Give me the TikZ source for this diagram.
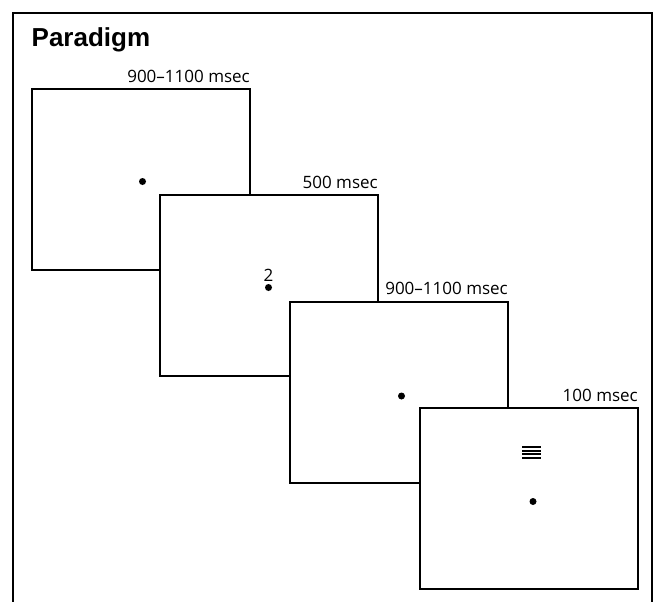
\documentclass[tikz,border=0pt]{standalone}
\usepackage{fontspec}
\setmainfont{Open Sans}
\newfontfamily\titlefont{Liberation Sans}
\begin{document}
\begin{tikzpicture}[x=1pt,y=-1pt,
  screen/.style={draw=black, line width=2pt, fill=white, minimum width=218pt,
    minimum height=181pt, anchor=north west, inner sep=0pt, outer sep=0pt},
  dur/.style={anchor=base east, inner sep=0pt, font=\fontsize{17}{20}\selectfont},
  fixdot/.style={circle, fill=black, draw=none, inner sep=0pt, minimum size=7pt},
  bar/.style={line width=2pt}]
\useasboundingbox (0,0) rectangle (653,602);
\draw[line width=2pt] (13,612) -- (13,13) -- (651.5,13) -- (651.5,612);
\node[anchor=base west, inner sep=0pt, font=\titlefont\bfseries\fontsize{26}{30}\selectfont] (title) at (31.5,47) {Paradigm};

\node[screen] (s1) at (32,89) {};
\node[dur] (l1) at ([yshift=7pt]s1.north east) {900–1100 msec};
\node[fixdot] (d1) at (142.5,181.5) {};

\node[screen] (s2) at (160,195.3) {};
\node[dur] (l2) at ([yshift=7pt]s2.north east) {500 msec};
\node[anchor=base, inner sep=0pt, font=\fontsize{17}{20}\selectfont] (n2) at (268.5,281) {2};
\node[fixdot] (d2) at (268.5,287.5) {};

\node[screen] (s3) at (290,301.6) {};
\node[dur] (l3) at ([yshift=7pt]s3.north east) {900–1100 msec};
\node[fixdot] (d3) at (401.5,396) {};

\node[screen] (s4) at (420,408) {};
\node[dur] (l4) at ([yshift=7pt]s4.north east) {100 msec};
\coordinate (g1) at (522,447);
\coordinate (g2) at (541,447);
\foreach \k in {0,1,2,3}{
  \draw[bar] ([yshift=-3.6*\k pt]g1) -- ([yshift=-3.6*\k pt]g2);
}
\node[fixdot] (d4) at (533,501.5) {};
\end{tikzpicture}
\end{document}
